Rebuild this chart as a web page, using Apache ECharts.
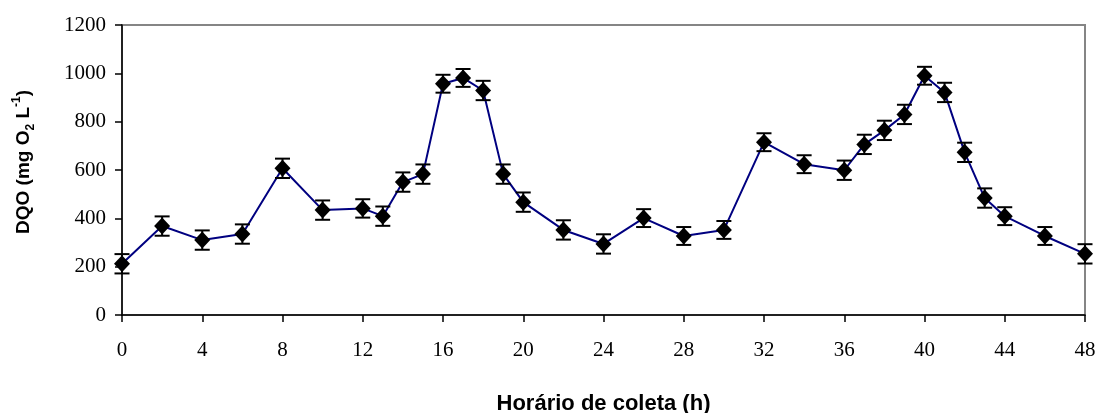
<!DOCTYPE html>
<html>
<head>
<meta charset="utf-8">
<script src="https://cdn.jsdelivr.net/npm/echarts@6/dist/echarts.min.js"></script>
<style>
  html, body { margin: 0; padding: 0; background: #fff; }
  #chart { width: 1099px; height: 413px; }
</style>
</head>
<body>
<div id="chart"></div>
<script>
// Sampling times (h)
var hours = [0, 2, 4, 6, 8, 10, 12, 13, 14, 15, 16, 17, 18, 19, 20, 22, 24, 26, 28, 30,
             32, 34, 36, 37, 38, 39, 40, 41, 42, 43, 44, 46, 48];
// COD (mg O2 L-1)
var dqo = [212, 368, 310, 335, 607, 434, 441, 409, 550, 583, 957, 981, 929, 583, 467, 352, 294, 401, 327, 352,
           715, 624, 599, 706, 764, 830, 990, 921, 673, 484, 409, 327, 253];
// Error (±)
var err = [40, 40, 40, 40, 40, 40, 38, 40, 40, 40, 37, 37, 40, 40, 40, 40, 40, 37, 37, 37,
           37, 37, 40, 40, 40, 40, 37, 40, 40, 40, 37, 37, 40];
// Axis ticks
var xTicks = { min: 0, max: 48, step: 4 };
var yTicks = { min: 0, max: 1200, step: 200 };

var points = hours.map(function (h, i) { return [h, dqo[i]]; });
var bars = hours.map(function (h, i) { return [h, dqo[i] - err[i], dqo[i] + err[i]]; });

var chart = echarts.init(document.getElementById('chart'), null, { renderer: 'canvas' });

var serif = '"Liberation Serif", "Times New Roman", serif';
var sans = '"Liberation Sans", Arial, sans-serif';

chart.setOption({
  animation: false,
  backgroundColor: '#ffffff',
  grid: {
    left: 122, right: 14, top: 25, bottom: 98,
    outerBoundsMode: 'none',
    containLabel: false,
    show: true, borderColor: '#858585', borderWidth: 2, backgroundColor: 'transparent'
  },
  xAxis: {
    type: 'value',
    min: xTicks.min, max: xTicks.max, interval: xTicks.step,
    name: 'Horário de coleta (h)',
    nameLocation: 'middle', nameGap: 78,
    nameTextStyle: { fontFamily: sans, fontWeight: 'bold', fontSize: 22, color: '#000' },
    axisLine: { show: true, onZero: false, lineStyle: { color: '#000', width: 1.5 } },
    axisTick: { show: true, length: 7, lineStyle: { color: '#000', width: 1.5 } },
    axisLabel: { fontFamily: serif, fontSize: 21, color: '#000', margin: 25,
                 formatter: function (v) { return String(v); } },
    splitLine: { show: false }
  },
  yAxis: {
    type: 'value',
    min: yTicks.min, max: yTicks.max, interval: yTicks.step,
    name: 'DQO (mg O{sub|2} L{sup|-1})',
    nameLocation: 'middle', nameGap: 85, nameRotate: 90,
    nameTextStyle: {
      fontFamily: sans, fontWeight: 'bold', fontSize: 19, color: '#000', lineHeight: 26,
      padding: [0, 0, 0, 16],
      rich: {
        sub: { fontFamily: sans, fontWeight: 'bold', fontSize: 12, color: '#000', lineHeight: 26, verticalAlign: 'bottom' },
        sup: { fontFamily: sans, fontWeight: 'bold', fontSize: 12, color: '#000', lineHeight: 26, verticalAlign: 'top' }
      }
    },
    axisLine: { show: true, lineStyle: { color: '#000', width: 1.5 } },
    axisTick: { show: true, length: 7, lineStyle: { color: '#000', width: 1.5 } },
    axisLabel: { fontFamily: serif, fontSize: 21, color: '#000', margin: 16,
                 formatter: function (v) { return String(v); } },
    splitLine: { show: false }
  },
  series: [
    {
      type: 'line',
      data: points,
      showSymbol: false,
      lineStyle: { color: '#000080', width: 2 },
      z: 2
    },
    {
      type: 'custom',
      data: bars,
      z: 3,
      renderItem: function (params, api) {
        var x = api.value(0);
        var lo = api.coord([x, api.value(1)]);
        var hi = api.coord([x, api.value(2)]);
        var half = 7.5;
        var style = { stroke: '#000', lineWidth: 2 };
        return {
          type: 'group',
          children: [
            { type: 'line', shape: { x1: lo[0], y1: lo[1], x2: hi[0], y2: hi[1] }, style: style },
            { type: 'line', shape: { x1: lo[0] - half, y1: lo[1], x2: lo[0] + half, y2: lo[1] }, style: style },
            { type: 'line', shape: { x1: hi[0] - half, y1: hi[1], x2: hi[0] + half, y2: hi[1] }, style: style }
          ]
        };
      }
    },
    {
      type: 'scatter',
      data: points,
      symbol: 'diamond',
      symbolSize: [16, 17],
      itemStyle: { color: '#000', opacity: 1 },
      z: 4
    }
  ]
});
</script>
</body>
</html>
